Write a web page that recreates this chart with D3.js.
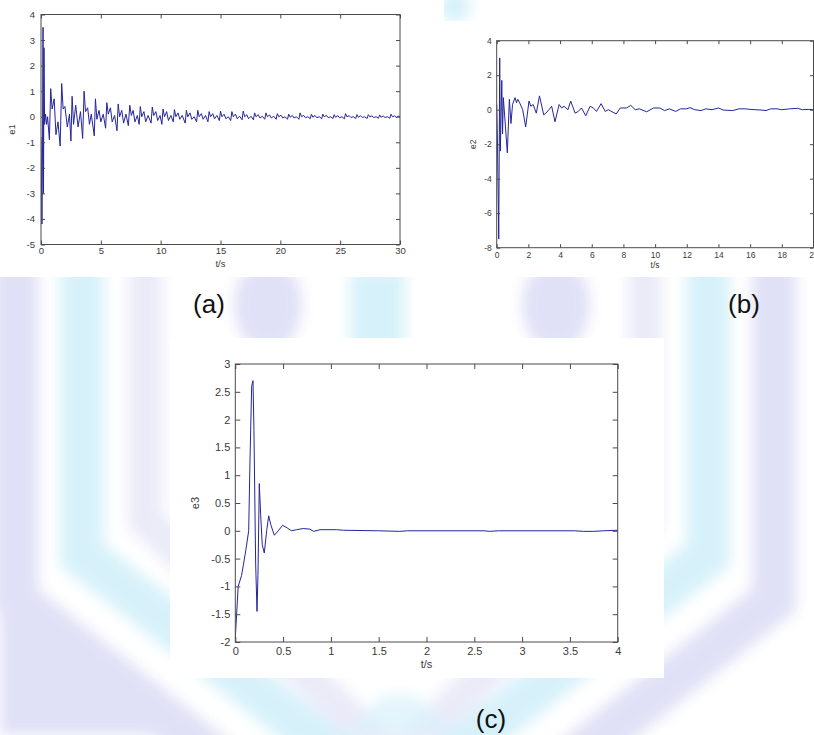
<!DOCTYPE html>
<html>
<head>
<meta charset="utf-8">
<script src="https://cdn.jsdelivr.net/npm/d3@7"></script>
<style>
body { margin: 0; background: #fff; }
svg { display: block; }
text { font-family: "Liberation Sans", Arial, sans-serif; }
</style>
</head>
<body>
<svg id="fig" width="814" height="735"></svg>
<script>
// e1 (a), [t, value]
const e1Data = [
    [0, -0.8], [0.04, -2.4], [0.08, -4.2], [0.13, -1.0], [0.17, 3.5], [0.21, -3.0], [0.25, 2.7], [0.3, -0.3], [0.38, 0.1], [0.47, -0.3], [0.55, 0.0], [0.7, -0.9],
    [0.81, 1.1], [0.93, 0.3], [1.1, 0.7], [1.25, -0.7], [1.42, -0.2], [1.6, -1.15],
    [1.73, 1.3], [1.85, 0.3], [2.0, 0.4], [2.2, -0.4], [2.38, 0.1], [2.5, -0.95],
    [2.6, 0.8], [2.72, -0.3], [2.9, 0.45], [3.1, -0.4], [3.3, 0.2], [3.48, -0.85],
    [3.6, 1.0], [3.72, 0.2], [3.9, 0.35], [4.05, -0.3], [4.2, 0.1], [4.45, -0.75],
    [4.55, 0.7], [4.67, -0.1], [4.85, 0.25], [5.0, -0.2], [5.2, 0.1], [5.4, -0.45],
    [5.5, 0.55], [5.62, 0.1], [5.8, 0.35], [5.95, -0.2], [6.15, 0.05], [6.35, -0.55],
    [6.45, 0.5], [6.57, 0.0], [6.75, 0.25], [6.9, -0.25], [7.1, 0.1], [7.3, -0.35],
    [7.42, 0.45], [7.55, 0.05], [7.7, 0.25], [7.85, -0.2], [8.05, 0.05], [8.2, -0.3],
    [8.3, 0.4], [8.42, 0.0], [8.6, 0.2], [8.75, -0.2], [8.95, 0.05], [9.2, -0.25],
    [9.3, 0.38], [9.42, 0.05], [9.6, 0.2], [9.75, -0.15], [9.95, 0.05], [10.1, -0.3],
    [10.2, 0.3], [10.32, 0.0], [10.5, 0.2], [10.65, -0.15], [10.85, 0.05], [11.05, -0.2],
    [11.15, 0.28], [11.27, 0.0], [11.45, 0.15], [11.6, -0.1], [11.8, 0.05], [12.05, -0.25],
    [12.15, 0.25], [12.27, 0.0], [12.45, 0.15], [12.6, -0.1], [12.8, 0.0], [13.0, -0.2],
    [13.1, 0.25], [13.22, 0.0], [13.4, 0.12], [13.55, -0.1], [13.75, 0.05], [13.95, -0.2],
    [14.05, 0.2], [14.17, 0.0], [14.35, 0.12], [14.5, -0.08], [14.7, 0.05], [14.9, -0.15],
    [15.0, 0.22], [15.12, 0.0], [15.3, 0.1], [15.45, -0.08], [15.65, 0.0], [15.85, -0.15],
    [15.95, 0.2], [16.07, 0.0], [16.25, 0.1], [16.4, -0.08], [16.6, 0.02], [16.8, -0.12],
    [16.9, 0.22], [17.02, 0.0], [17.2, 0.08], [17.35, -0.08], [17.55, 0.02], [17.75, -0.12],
    [17.85, 0.15], [17.97, 0.0], [18.15, 0.08], [18.3, -0.05], [18.5, 0.02], [18.7, -0.1],
    [18.8, 0.15], [18.92, 0.0], [19.1, 0.07], [19.25, -0.05], [19.45, 0.02], [19.65, -0.1],
    [19.75, 0.12], [19.87, 0.0], [20.05, 0.06], [20.2, -0.05], [20.4, 0.0], [20.6, -0.1],
    [20.7, 0.1], [20.82, -0.02], [21.0, 0.05], [21.15, -0.05], [21.35, 0.0], [21.55, -0.1],
    [21.65, 0.15], [21.77, 0.0], [21.95, 0.05], [22.1, -0.04], [22.3, 0.0], [22.5, -0.08],
    [22.6, 0.1], [22.72, -0.02], [22.9, 0.05], [23.05, -0.04], [23.25, 0.0], [23.45, -0.08],
    [23.55, 0.1], [23.67, 0.0], [23.85, 0.05], [24.0, -0.04], [24.2, 0.0], [24.4, -0.07],
    [24.5, 0.08], [24.62, -0.02], [24.8, 0.04], [24.95, -0.04], [25.15, 0.0], [25.35, -0.08],
    [25.45, 0.12], [25.57, 0.0], [25.75, 0.04], [25.9, -0.03], [26.1, 0.0], [26.3, -0.07],
    [26.4, 0.08], [26.52, -0.02], [26.7, 0.04], [26.85, -0.03], [27.05, 0.0], [27.25, -0.07],
    [27.35, 0.08], [27.47, 0.0], [27.65, 0.03], [27.8, -0.03], [28.0, 0.0], [28.2, -0.06],
    [28.3, 0.07], [28.42, -0.02], [28.6, 0.03], [28.75, -0.03], [28.95, 0.0], [29.15, -0.06],
    [29.25, 0.1], [29.37, 0.0], [29.55, 0.03], [29.7, -0.03], [29.85, 0.02], [30, 0.0]
]

// e2 (b)
const e2Data = [
    [0, 0.3], [0.05, -2.0], [0.13, -7.5], [0.19, 3.0], [0.23, -2.4], [0.27, -0.5], [0.32, 1.7], [0.37, -1.4], [0.42, 0.7],
    [0.67, -2.5], [0.8, 0.6], [0.9, -0.8], [1.0, 0.3], [1.16, 0.7], [1.25, 0.4], [1.33, 0.6], [1.45, 0.4], [1.64, 0.0],
    [1.83, -1.0], [2.04, 0.5], [2.15, 0.2], [2.3, 0.3], [2.5, -0.2], [2.7, 0.8], [2.97, -0.3], [3.1, -0.2], [3.3, 0.0],
    [3.47, 0.2], [3.68, -0.7], [3.94, 0.3], [4.1, 0.1], [4.25, 0.2], [4.5, 0.0], [4.67, 0.5], [4.95, -0.2], [5.15, -0.1],
    [5.35, 0.1], [5.62, -0.35], [5.9, 0.2], [6.1, 0.1], [6.3, -0.1], [6.59, 0.35], [6.85, -0.1], [7.05, 0.0], [7.54, -0.25],
    [7.8, 0.1], [8.2, 0.1], [8.46, 0.25], [8.75, 0.0], [9.0, 0.05], [9.47, -0.12], [9.9, 0.1], [10.3, 0.1], [10.6, -0.05],
    [10.9, 0.05], [11.3, -0.1], [11.6, 0.05], [12.0, 0.05], [12.2, 0.12], [12.5, 0.0], [12.9, -0.05], [13.2, 0.05],
    [13.6, 0.0], [14.0, 0.1], [14.3, -0.02], [14.9, -0.05], [15.3, 0.05], [15.7, 0.05], [16.0, 0.02], [16.3, 0.0],
    [16.7, -0.02], [17.0, -0.05], [17.3, 0.05], [17.7, 0.05], [18.0, 0.0], [18.5, 0.05], [19.0, 0.08], [19.3, 0.0],
    [19.7, 0.02], [20, 0.0]
]

// e3 (c)
const e3Data = [
    [0, -1.92], [0.014, -1.5], [0.03, -1.0], [0.066, -0.8], [0.11, -0.35], [0.14, 0.0], [0.153, 1.2], [0.171, 2.6],
    [0.185, 2.7], [0.195, 1.8], [0.213, -0.6], [0.227, -1.45], [0.237, -0.8], [0.251, 0.85], [0.265, 0.3],
    [0.282, -0.25], [0.303, -0.4], [0.328, 0.0], [0.349, 0.27], [0.373, 0.1], [0.408, -0.08], [0.45, 0.0],
    [0.495, 0.1], [0.544, 0.05], [0.589, 0.0], [0.64, 0.02], [0.71, 0.04], [0.78, 0.03], [0.82, -0.01],
    [0.886, 0.02], [1.06, 0.02], [1.13, 0.01], [1.5, 0.0], [1.72, -0.01], [1.8, 0.0], [2.6, 0.0], [2.66, -0.01],
    [2.75, 0.0], [3.55, 0.0], [3.64, -0.01], [3.75, -0.01], [3.85, 0.0], [4, 0.01]
]

const e1XTicks = [0, 5, 10, 15, 20, 25, 30]
const e1YTicks = [-5, -4, -3, -2, -1, 0, 1, 2, 3, 4]
const e2XTicks = [0, 2, 4, 6, 8, 10, 12, 14, 16, 18, 20]
const e2YTicks = [-8, -6, -4, -2, 0, 2, 4]
const e3XTicks = [0, 0.5, 1, 1.5, 2, 2.5, 3, 3.5, 4]
const e3YTicks = [-2, -1.5, -1, -0.5, 0, 0.5, 1, 1.5, 2, 2.5, 3]

const lineColor = "#25259a"
const axisColor = "#4a4a4a"
const textColor = "#3a3a3a"
const lavender = "#d9d9f5"
const cyan = "#cdeef9"

const svg = d3.select("#fig")

function drawWatermark() {
    const defs = svg.append("defs")
    defs.append("filter").attr("id", "soft")
        .attr("x", "-20%").attr("y", "-20%").attr("width", "140%").attr("height", "140%")
        .append("feGaussianBlur").attr("stdDeviation", 7)

    const wm = svg.append("g").attr("filter", "url(#soft)").attr("opacity", 0.8)
    const cx = 395
    const bands = [
        {d: 16, w: 44, bend: 600, tip: 900, color: lavender},
        {d: 82, w: 44, bend: 555, tip: 800, color: cyan},
        {d: 145, w: 34, bend: 520, tip: 760, color: "#e6e6f7"}
    ]
    bands.forEach(b => {
        const pts = [[b.d, 200], [b.d, b.bend], [cx, b.tip], [2 * cx - b.d, b.bend], [2 * cx - b.d, 200]]
        wm.append("path")
            .attr("d", d3.line()(pts))
            .attr("fill", "none")
            .attr("stroke", b.color)
            .attr("stroke-width", b.w)
            .attr("stroke-linejoin", "miter")
    })
    wm.append("path").attr("d", d3.line()([[0, 610], [0, 735], [220, 735]]))
        .attr("fill", lavender)
    // blobs above panel (c)
    wm.append("ellipse").attr("cx", 268).attr("cy", 305).attr("rx", 34).attr("ry", 46).attr("fill", lavender)
    wm.append("ellipse").attr("cx", 556).attr("cy", 305).attr("rx", 34).attr("ry", 46).attr("fill", lavender)
    wm.append("rect").attr("x", 350).attr("y", 270).attr("width", 55).attr("height", 80).attr("fill", cyan)
    wm.append("ellipse").attr("cx", 455).attr("cy", 6).attr("rx", 16).attr("ry", 16).attr("fill", cyan)
    wm.append("path").attr("d", d3.line()([[340, 735], [385, 695], [415, 695], [460, 735]]))
        .attr("fill", cyan).attr("opacity", 0.7)
}

function drawPanel(p) {
    svg.append("rect")
        .attr("x", p.bg[0]).attr("y", p.bg[1]).attr("width", p.bg[2]).attr("height", p.bg[3])
        .attr("fill", "#fff")

    const g = svg.append("g")
    const x = d3.scaleLinear().domain(p.xDomain).range([p.left, p.right])
    const y = d3.scaleLinear().domain(p.yDomain).range([p.bottom, p.top])

    const clipId = "clip-" + p.name
    svg.append("clipPath").attr("id", clipId).append("rect")
        .attr("x", p.left).attr("y", p.top - 2)
        .attr("width", p.right - p.left).attr("height", p.bottom - p.top + 4)

    g.append("path").datum(p.data)
        .attr("clip-path", `url(#${clipId})`)
        .attr("fill", "none")
        .attr("stroke", lineColor)
        .attr("stroke-width", 1)
        .attr("stroke-linejoin", "round")
        .attr("d", d3.line().x(d => x(d[0])).y(d => y(d[1])))

    const fmt = d => String(d)
    const tk = p.tick

    const bottom = g.append("g").attr("transform", `translate(0,${p.bottom})`)
        .call(d3.axisBottom(x).tickValues(p.xTicks).tickSizeInner(-tk).tickSizeOuter(0).tickPadding(p.xPad).tickFormat(fmt))
    const top = g.append("g").attr("transform", `translate(0,${p.top})`)
        .call(d3.axisTop(x).tickValues(p.xTicks).tickSizeInner(-tk).tickSizeOuter(0).tickFormat(""))
    const left = g.append("g").attr("transform", `translate(${p.left},0)`)
        .call(d3.axisLeft(y).tickValues(p.yTicks).tickSizeInner(-tk).tickSizeOuter(0).tickPadding(p.yPad).tickFormat(fmt))
    const right = g.append("g").attr("transform", `translate(${p.right},0)`)
        .call(d3.axisRight(y).tickValues(p.yTicks).tickSizeInner(-tk).tickSizeOuter(0).tickFormat(""))

    ;[bottom, top, left, right].forEach(a => {
        a.select(".domain").remove()
        a.selectAll(".tick line").attr("stroke", axisColor)
        a.selectAll(".tick text")
            .attr("fill", textColor)
            .style("font-size", p.font + "px")
            .style("font-family", "'Liberation Sans', Arial, sans-serif")
    })

    g.append("rect")
        .attr("x", p.left).attr("y", p.top)
        .attr("width", p.right - p.left).attr("height", p.bottom - p.top)
        .attr("fill", "none").attr("stroke", axisColor).attr("stroke-width", 1)

    g.append("text")
        .attr("x", (p.left + p.right) / 2).attr("y", p.xLabelY)
        .attr("text-anchor", "middle")
        .attr("fill", textColor)
        .style("font-size", p.font + "px")
        .text("t/s")

    g.append("text")
        .attr("transform", `translate(${p.yLabelX},${(p.top + p.bottom) / 2}) rotate(-90)`)
        .attr("text-anchor", "middle")
        .attr("fill", textColor)
        .style("font-size", p.font + "px")
        .text(p.yLabel)
}

drawWatermark()

drawPanel({
    name: "a", bg: [0, 0, 444, 277],
    left: 41, right: 400, top: 14.5, bottom: 244.5,
    xDomain: [0, 30], yDomain: [-5, 4],
    xTicks: e1XTicks, yTicks: e1YTicks, data: e1Data,
    tick: 4, xPad: 3, yPad: 6, font: 9.5,
    xLabelY: 266.5, yLabelX: 15, yLabel: "e1"
})

drawPanel({
    name: "b", bg: [444, 21, 370, 256],
    left: 496.7, right: 813.5, top: 40.7, bottom: 247.7,
    xDomain: [0, 20], yDomain: [-8, 4],
    xTicks: e2XTicks, yTicks: e2YTicks, data: e2Data,
    tick: 3.5, xPad: 4, yPad: 5, font: 8.5,
    xLabelY: 268, yLabelX: 476, yLabel: "e2"
})

drawPanel({
    name: "c", bg: [170, 338, 494, 340],
    left: 235.3, right: 617.7, top: 364, bottom: 642,
    xDomain: [0, 4], yDomain: [-2, 3],
    xTicks: e3XTicks, yTicks: e3YTicks, data: e3Data,
    tick: 5, xPad: 5, yPad: 5, font: 11,
    xLabelY: 668, yLabelX: 199, yLabel: "e3"
})

const panelLabels = ["(a)", "(b)", "(c)"]
const labelPos = [[209, 313], [744, 313], [491, 728]]
svg.selectAll(".plabel").data(panelLabels).join("text")
    .attr("class", "plabel")
    .attr("x", (d, i) => labelPos[i][0])
    .attr("y", (d, i) => labelPos[i][1])
    .attr("text-anchor", "middle")
    .attr("fill", "#111")
    .style("font-size", "26px")
    .text(d => d)
</script>
</body>
</html>
